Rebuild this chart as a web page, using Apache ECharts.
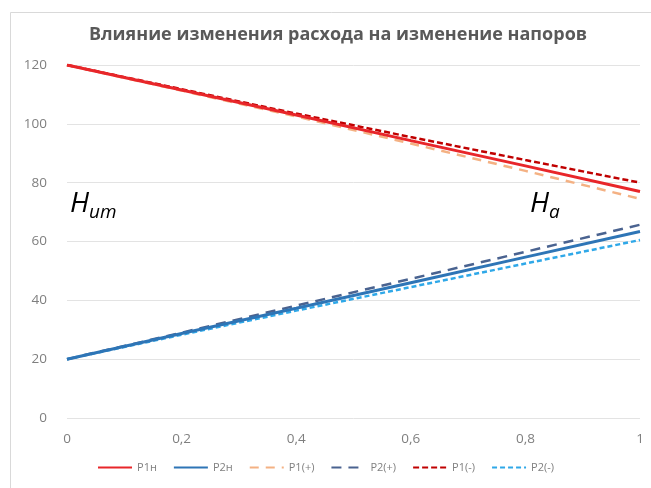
<!DOCTYPE html>
<html><head><meta charset="utf-8">
<script src="https://cdn.jsdelivr.net/npm/echarts@6/dist/echarts.min.js"></script>
<style>html,body{margin:0;padding:0;background:#fff}#c{width:651px;height:488px}</style>
</head><body><div id="c"></div>
<script>
const xValues = [0, 0.2, 0.4, 0.6, 0.8, 1];
const p1n  = [120, 111.5, 103.0, 94.3, 85.7, 77.0];
const p2n  = [20, 28.7, 37.3, 46.0, 54.7, 63.4];
const p1p  = [120, 111.3, 102.5, 93.3, 84.0, 74.5];
const p2p  = [20, 29.0, 38.2, 47.3, 56.5, 65.7];
const p1m  = [120, 111.8, 103.5, 95.5, 87.7, 80.0];
const p2m  = [20, 28.3, 36.5, 44.5, 52.5, 60.5];
const seriesNames = ['P1н', 'P2н', 'P1(+)', 'P2(+)', 'P1(-)', 'P2(-)'];
const yTicks = [0, 20, 40, 60, 80, 100, 120];
const titleText = 'Влияние изменения расхода на изменение напоров';

function pts(arr){ return xValues.map((x,i)=>[x, arr[i]]); }
const styles = [
  {color:'#e8262a', width:3, type:'solid'},
  {color:'#2e75b6', width:3, type:'solid'},
  {color:'#f4b183', width:2.5, type:[9,7]},
  {color:'#4a6390', width:2.5, type:[10,7]},
  {color:'#c00000', width:2.5, type:[6,3]},
  {color:'#2fa8e8', width:2.5, type:[5,3]}
];
const dataArr = [p1n, p2n, p1p, p2p, p1m, p2m];
const zOrder = [6, 6, 3, 3, 4, 4];
const series = dataArr.map((d,i)=>({
  name: seriesNames[i], type:'line', data: pts(d), symbol:'none', showSymbol:false,
  lineStyle:{color:styles[i].color, width:styles[i].width, type:styles[i].type},
  itemStyle:{color:styles[i].color}, z: zOrder[i], silent:true, animation:false
}));

const chart = echarts.init(document.getElementById('c'), null, {renderer:'canvas'});
chart.setOption({
  animation:false,
  backgroundColor:'#fff',
  title:{text:titleText, left:333, top:21, textAlign:'center',
    textStyle:{fontFamily:'Open Sans', fontWeight:'bold', fontSize:18, color:'#595959'}},
  grid:{left:67, right:11, top:65, bottom:70, containLabel:false},
  xAxis:{type:'value', min:0, max:1, interval:0.2,
    axisLine:{show:false}, axisTick:{show:false}, splitLine:{show:false},
    axisLabel:{color:'#7f7f7f', fontFamily:'Open Sans', fontSize:13.5, margin:14,
      formatter:v=>String(Math.round(v*10)/10).replace('.',',')}},
  yAxis:{type:'value', min:yTicks[0], max:yTicks[yTicks.length-1], interval:20,
    axisLine:{show:false}, axisTick:{show:false},
    splitLine:{lineStyle:{color:'#e3e3e3', width:1}},
    axisLabel:{color:'#7f7f7f', fontFamily:'Open Sans', fontSize:13.5, margin:20}},
  legend:{data:seriesNames, bottom:10, left:'center', itemWidth:34, itemHeight:10, itemGap:16,
    itemStyle:{opacity:0},
    textStyle:{color:'#7f7f7f', fontFamily:'Open Sans', fontSize:11}},
  graphic:[
    {type:'rect', shape:{x:10.5, y:12.5, width:660, height:500}, style:{fill:'none', stroke:'#d9d9d9', lineWidth:1}, z:-1},
    {type:'text', left:70, top:190, style:{rich:{h:{fontFamily:'Open Sans', fontStyle:'italic', fontSize:28, fill:'#000', verticalAlign:'bottom'}, s:{fontFamily:'Open Sans', fontStyle:'italic', fontSize:19, fill:'#000', verticalAlign:'bottom', padding:[0,0,-4,0]}}, text:'{h|H}{s|ит}'}},
    {type:'text', left:530, top:190, style:{rich:{h:{fontFamily:'Open Sans', fontStyle:'italic', fontSize:28, fill:'#000', verticalAlign:'bottom'}, s:{fontFamily:'Open Sans', fontStyle:'italic', fontSize:19, fill:'#000', verticalAlign:'bottom', padding:[0,0,-4,0]}}, text:'{h|H}{s|a}'}}
  ],
  series: series
});
</script></body></html>
